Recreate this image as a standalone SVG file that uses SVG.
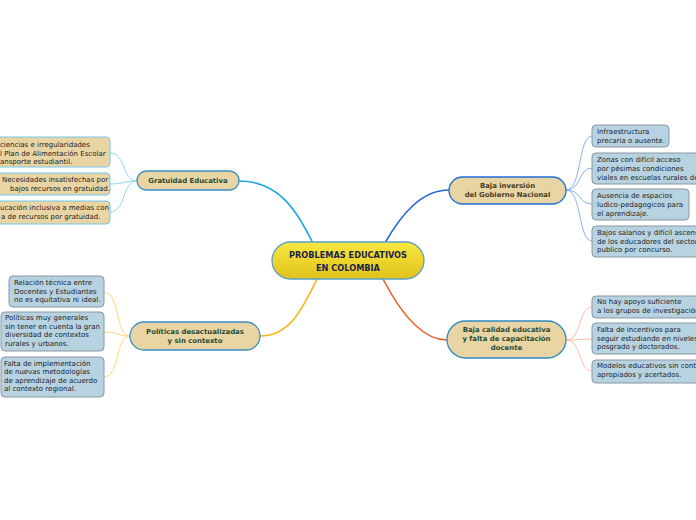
<svg xmlns="http://www.w3.org/2000/svg" width="696" height="520" viewBox="0 0 696 520">
<defs>
<linearGradient id="gc" x1="0" y1="0" x2="0" y2="1">
<stop offset="0" stop-color="#f8e840"/>
<stop offset="1" stop-color="#e0c21a"/>
</linearGradient>
</defs>
<style>
text{font-family:"DejaVu Sans",Verdana,sans-serif;font-size:7px;fill:#222}
.main{fill:#e9d4a4;stroke-width:1.3}
.tan{fill:#e9d4a4;stroke:#72c8ea;stroke-width:1}
.blue{fill:#b7d3e2;stroke:#8a979f;stroke-width:1}
.nt{font-weight:bold;font-size:6.9px;fill:#1d4a38;text-anchor:middle}
.ct{font-weight:bold;font-size:8.2px;fill:#1c2448;text-anchor:middle}
.c{fill:none}
</style>
<rect width="696" height="520" fill="#ffffff"/>
<g id="connectors">
<path class="c" d="M239,181 C282,181 298,215 313,243" stroke="#1ea6e6" stroke-width="1.6"/>
<path class="c" d="M385,243 C402,213 422,190 449,190" stroke="#1d68d6" stroke-width="1.6"/>
<path class="c" d="M317,279 C303,308 290,336 260,336" stroke="#f6b81c" stroke-width="1.6"/>
<path class="c" d="M383,279 C398,308 420,340 447,340" stroke="#f05a28" stroke-width="1.6"/>
<g stroke="#90d6f2" stroke-width="1">
<path class="c" d="M137,181 C122,181 126,153 110,153"/>
<path class="c" d="M137,181 C124,181 122,184 110,184"/>
<path class="c" d="M137,181 C122,181 126,212 110,212"/>
</g>
<g stroke="#8ab2ee" stroke-width="1">
<path class="c" d="M566,190 C582,190 578,136 592,136"/>
<path class="c" d="M566,190 C582,190 578,168 592,168"/>
<path class="c" d="M566,190 C582,190 578,204 592,204"/>
<path class="c" d="M566,190 C582,190 578,241 592,241"/>
</g>
<g stroke="#ffd676" stroke-width="1">
<path class="c" d="M130,336 C115,336 120,292 104,292"/>
<path class="c" d="M130,336 C115,336 120,332 104,332"/>
<path class="c" d="M130,336 C115,336 120,377 104,377"/>
</g>
<g stroke="#ffbaa4" stroke-width="1">
<path class="c" d="M566,340 C582,340 578,307 592,307"/>
<path class="c" d="M566,340 C582,340 578,339 592,339"/>
<path class="c" d="M566,340 C582,340 578,371 592,371"/>
</g>
</g>
<g id="central">
<rect x="272" y="242" width="152" height="37" rx="18.5" fill="url(#gc)" stroke="#5a9ec8" stroke-width="1.3"/>
<text class="ct" x="348" y="258">PROBLEMAS EDUCATIVOS</text>
<text class="ct" x="348" y="271">EN COLOMBIA</text>
</g>
<g id="gratuidad">
<rect class="main" x="137" y="171" width="102" height="19" rx="9.5" stroke="#3a8ec4"/>
<text class="nt" x="188" y="183">Gratuidad Educativa</text>
</g>
<g id="g1">
<rect class="tan" x="-6" y="137" width="116" height="30" rx="4"/>
<text x="0" y="147">ciencias e irregularidades</text>
<text x="0" y="156">l Plan de Alimentación Escolar</text>
<text x="0" y="164">ansporte estudiantil.</text>
</g>
<g id="g2">
<rect class="tan" x="-6" y="173" width="116" height="22" rx="4"/>
<text x="2" y="182">Necesidades insatisfechas por</text>
<text x="10" y="191">bajos recursos en gratuidad.</text>
</g>
<g id="g3">
<rect class="tan" x="-6" y="201" width="116" height="23" rx="4"/>
<text x="0" y="210">ucación inclusiva a medias con</text>
<text x="1" y="219">a de recursos por gratuidad.</text>
</g>
<g id="inversion">
<rect class="main" x="449" y="177" width="117" height="27" rx="13.5" stroke="#1e6ed6"/>
<text class="nt" x="507.5" y="188" style="fill:#4a3a1e">Baja inversión</text>
<text class="nt" x="507.5" y="197" style="fill:#4a3a1e">del Gobierno Nacional</text>
</g>
<g id="i1">
<rect class="blue" x="592" y="125" width="77" height="22" rx="4"/>
<text x="597" y="134">Infraestructura</text>
<text x="597" y="143">precaria o ausente.</text>
</g>
<g id="i2">
<rect class="blue" x="592" y="153" width="112" height="31" rx="4"/>
<text x="597" y="162">Zonas con difícil acceso</text>
<text x="597" y="171">por pésimas condiciones</text>
<text x="597" y="180">viales en escuelas rurales de</text>
</g>
<g id="i3">
<rect class="blue" x="592" y="189" width="97" height="31" rx="4"/>
<text x="597" y="198">Ausencia de espacios</text>
<text x="597" y="207">ludico-pedagogicos para</text>
<text x="597" y="216">el aprendizaje.</text>
</g>
<g id="i4">
<rect class="blue" x="592" y="226" width="112" height="31" rx="4"/>
<text x="597" y="235">Bajos salarios y difícil ascens</text>
<text x="597" y="244">de los educadores del sector</text>
<text x="597" y="252">publico por concurso.</text>
</g>
<g id="politicas">
<rect class="main" x="130" y="322" width="130" height="28" rx="14" stroke="#3a8ec4"/>
<text class="nt" x="195" y="334">Políticas desactualizadas</text>
<text class="nt" x="195" y="343">y sin contexto</text>
</g>
<g id="p1">
<rect class="blue" x="9" y="276" width="95" height="31" rx="4"/>
<text x="14" y="285">Relación técnica entre</text>
<text x="14" y="294">Docentes y Estudiantes</text>
<text x="14" y="302">no es equitativa ni ideal.</text>
</g>
<g id="p2">
<rect class="blue" x="1" y="312" width="103" height="39" rx="4"/>
<text x="5" y="320">Políticas muy generales</text>
<text x="5" y="329">sin tener en cuenta la gran</text>
<text x="5" y="337">diversidad de contextos</text>
<text x="5" y="346">rurales y urbanos.</text>
</g>
<g id="p3">
<rect class="blue" x="1" y="357" width="103" height="40" rx="4"/>
<text x="4" y="366">Falta de implementación</text>
<text x="4" y="374">de nuevas metodologías</text>
<text x="4" y="383">de aprendizaje de acuerdo</text>
<text x="4" y="391">al contexto regional.</text>
</g>
<g id="calidad">
<rect class="main" x="447" y="321" width="119" height="37" rx="18.5" stroke="#2e8ac2"/>
<text class="nt" x="506.5" y="332">Baja calidad educativa</text>
<text class="nt" x="506.5" y="341">y falta de capacitación</text>
<text class="nt" x="506.5" y="350">docente</text>
</g>
<g id="q1">
<rect class="blue" x="592" y="296" width="112" height="22" rx="4"/>
<text x="597" y="304">No hay apoyo suficiente</text>
<text x="597" y="313">a los grupos de investigación</text>
</g>
<g id="q2">
<rect class="blue" x="592" y="323" width="112" height="31" rx="4"/>
<text x="597" y="332">Falta de incentivos para</text>
<text x="597" y="341">seguir estudiando en niveles</text>
<text x="597" y="349">posgrado y doctorados.</text>
</g>
<g id="q3">
<rect class="blue" x="592" y="360" width="112" height="23" rx="4"/>
<text x="597" y="368">Modelos educativos sin conte</text>
<text x="597" y="377">apropiados y acertados.</text>
</g>
</svg>
